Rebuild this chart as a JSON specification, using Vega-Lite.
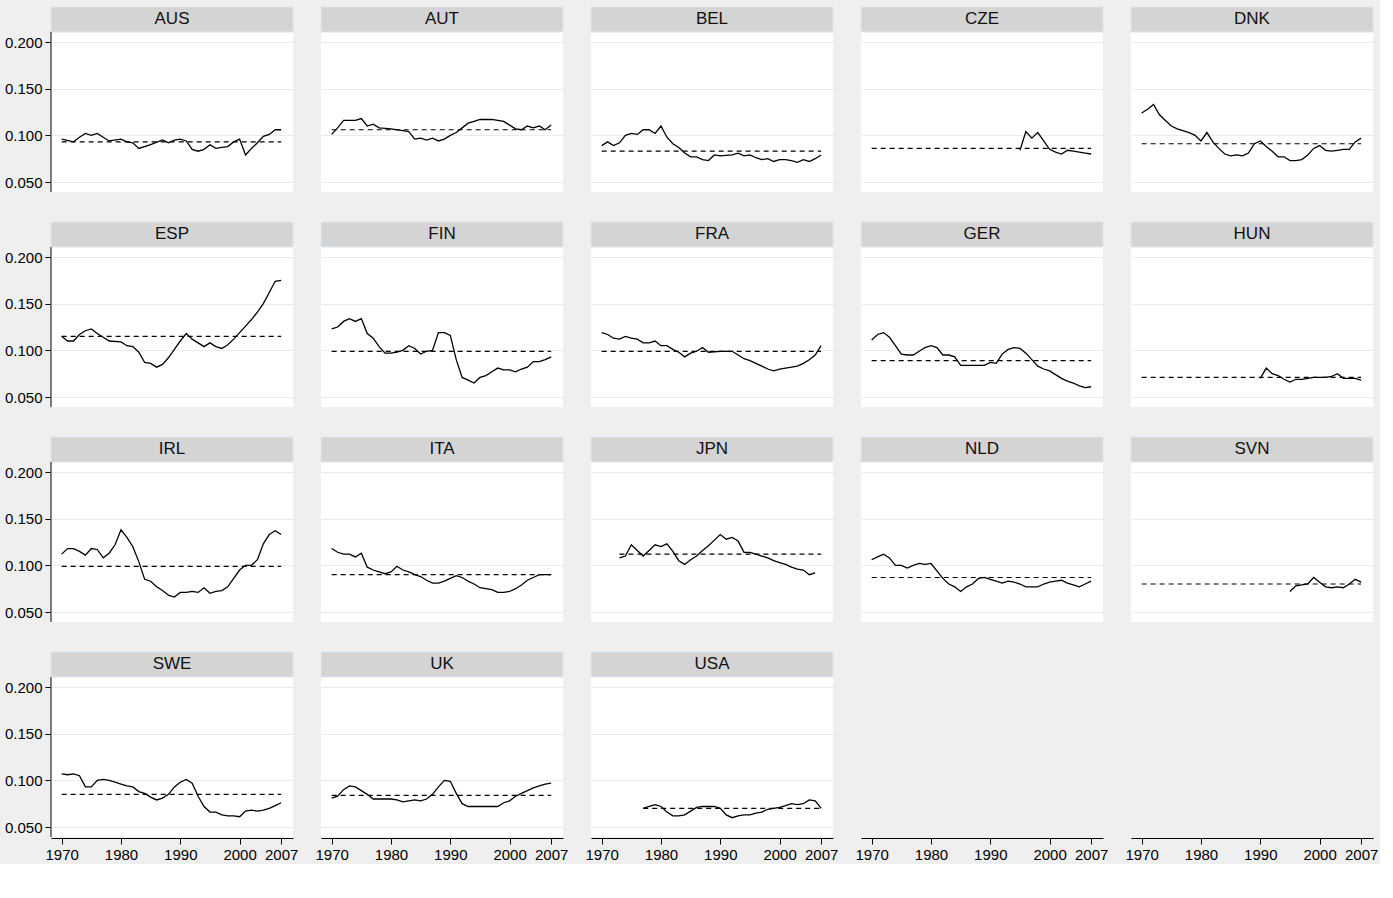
{
  "$schema": "https://vega.github.io/schema/vega-lite/v6.json",
  "padding": {"left": 4, "top": 5, "right": 2, "bottom": 2},
  "background": "#efefef",
  "data": {
    "values": [
      {"c": "AUS", "m": 0.093, "s": 1970, "e": 2007, "ys": [1970,1972,1973,1974,1975,1976,1977,1978,1980,1981,1982,1983,1985,1987,1988,1989,1990,1991,1992,1993,1994,1995,1996,1997,1998,1999,2000,2001,2002,2003,2004,2005,2006,2007], "vs": [0.096,0.093,0.098,0.102,0.100,0.102,0.098,0.094,0.096,0.093,0.092,0.086,0.090,0.095,0.092,0.095,0.096,0.094,0.085,0.083,0.085,0.090,0.086,0.087,0.088,0.093,0.096,0.079,0.086,0.092,0.099,0.101,0.106,0.106]},
      {"c": "AUT", "m": 0.106, "s": 1970, "e": 2007, "ys": [1970,1971,1972,1974,1975,1976,1977,1978,1980,1982,1983,1984,1985,1986,1987,1988,1989,1990,1991,1992,1993,1994,1995,1997,1999,2000,2001,2002,2003,2004,2005,2006,2007], "vs": [0.101,0.108,0.116,0.116,0.118,0.110,0.112,0.108,0.107,0.105,0.104,0.096,0.097,0.095,0.097,0.094,0.096,0.100,0.103,0.108,0.113,0.115,0.117,0.117,0.115,0.111,0.107,0.106,0.110,0.108,0.110,0.106,0.111]},
      {"c": "BEL", "m": 0.083, "s": 1970, "e": 2007, "ys": [1970,1971,1972,1973,1974,1975,1976,1977,1978,1979,1980,1981,1982,1983,1984,1985,1986,1987,1988,1989,1990,1992,1993,1994,1995,1996,1997,1998,1999,2000,2001,2002,2003,2004,2005,2006,2007], "vs": [0.089,0.093,0.089,0.092,0.100,0.102,0.101,0.106,0.106,0.102,0.110,0.098,0.091,0.087,0.081,0.077,0.077,0.074,0.073,0.079,0.078,0.079,0.081,0.078,0.079,0.076,0.074,0.075,0.072,0.074,0.074,0.073,0.071,0.074,0.072,0.075,0.079]},
      {"c": "CZE", "m": 0.086, "s": 1970, "e": 2007, "ys": [1995,1996,1997,1998,1999,2000,2001,2002,2003,2004,2005,2006,2007], "vs": [0.084,0.104,0.097,0.103,0.094,0.085,0.082,0.080,0.084,0.083,0.082,0.081,0.080]},
      {"c": "DNK", "m": 0.091, "s": 1970, "e": 2007, "ys": [1970,1971,1972,1973,1974,1975,1976,1978,1979,1980,1981,1982,1983,1984,1985,1986,1987,1988,1989,1990,1991,1992,1993,1994,1995,1996,1997,1998,1999,2000,2001,2002,2003,2004,2005,2006,2007], "vs": [0.124,0.128,0.133,0.122,0.116,0.110,0.107,0.103,0.100,0.094,0.103,0.093,0.086,0.080,0.078,0.079,0.078,0.081,0.091,0.094,0.088,0.083,0.077,0.077,0.073,0.073,0.074,0.079,0.086,0.089,0.084,0.083,0.084,0.085,0.085,0.093,0.097]},
      {"c": "ESP", "m": 0.115, "s": 1970, "e": 2007, "ys": [1970,1971,1972,1973,1974,1975,1976,1977,1978,1980,1981,1982,1983,1984,1985,1986,1987,1988,1989,1990,1991,1992,1993,1994,1995,1996,1997,1998,1999,2000,2001,2002,2003,2004,2005,2006,2007], "vs": [0.115,0.110,0.110,0.117,0.121,0.123,0.118,0.114,0.110,0.109,0.105,0.104,0.098,0.087,0.086,0.082,0.085,0.092,0.101,0.110,0.118,0.112,0.108,0.104,0.108,0.104,0.102,0.106,0.112,0.119,0.126,0.133,0.141,0.150,0.162,0.174,0.175]},
      {"c": "FIN", "m": 0.099, "s": 1970, "e": 2007, "ys": [1970,1971,1972,1973,1974,1975,1976,1977,1978,1979,1980,1981,1982,1983,1984,1985,1986,1987,1988,1989,1990,1991,1992,1993,1994,1995,1996,1997,1998,1999,2000,2001,2002,2003,2004,2005,2006,2007], "vs": [0.123,0.125,0.131,0.134,0.131,0.134,0.118,0.113,0.104,0.097,0.097,0.098,0.100,0.105,0.102,0.096,0.099,0.100,0.119,0.119,0.116,0.090,0.071,0.068,0.065,0.071,0.073,0.077,0.081,0.079,0.079,0.077,0.080,0.082,0.088,0.088,0.090,0.093]},
      {"c": "FRA", "m": 0.099, "s": 1970, "e": 2007, "ys": [1970,1971,1972,1973,1974,1975,1976,1977,1978,1979,1980,1981,1982,1983,1984,1985,1986,1987,1988,1990,1992,1993,1994,1995,1996,1997,1998,1999,2000,2001,2002,2003,2004,2005,2006,2007], "vs": [0.119,0.117,0.113,0.112,0.115,0.113,0.112,0.108,0.108,0.110,0.105,0.105,0.101,0.098,0.093,0.097,0.099,0.103,0.098,0.099,0.099,0.095,0.091,0.089,0.086,0.083,0.080,0.078,0.080,0.081,0.082,0.083,0.086,0.090,0.095,0.105]},
      {"c": "GER", "m": 0.089, "s": 1970, "e": 2007, "ys": [1970,1971,1972,1973,1974,1975,1976,1977,1978,1979,1980,1981,1982,1983,1984,1985,1986,1988,1989,1990,1991,1992,1993,1994,1995,1996,1997,1998,1999,2000,2001,2002,2003,2004,2005,2006,2007], "vs": [0.111,0.117,0.119,0.114,0.105,0.096,0.095,0.095,0.099,0.103,0.105,0.103,0.095,0.095,0.093,0.084,0.084,0.084,0.084,0.087,0.086,0.096,0.101,0.103,0.102,0.097,0.090,0.083,0.080,0.078,0.074,0.070,0.067,0.065,0.062,0.060,0.061]},
      {"c": "HUN", "m": 0.071, "s": 1970, "e": 2007, "ys": [1990,1991,1992,1993,1994,1995,1996,1997,1998,1999,2000,2001,2002,2003,2004,2005,2006,2007], "vs": [0.070,0.081,0.075,0.073,0.069,0.066,0.069,0.069,0.070,0.071,0.071,0.071,0.072,0.075,0.070,0.070,0.070,0.068]},
      {"c": "IRL", "m": 0.099, "s": 1970, "e": 2007, "ys": [1970,1971,1972,1973,1974,1975,1976,1977,1978,1979,1980,1981,1982,1983,1984,1985,1986,1987,1988,1989,1990,1991,1992,1993,1994,1995,1996,1997,1998,1999,2000,2001,2002,2003,2004,2005,2006,2007], "vs": [0.112,0.118,0.118,0.115,0.111,0.118,0.117,0.108,0.113,0.122,0.138,0.130,0.120,0.104,0.085,0.083,0.077,0.073,0.068,0.066,0.071,0.071,0.072,0.071,0.076,0.070,0.072,0.073,0.077,0.086,0.095,0.100,0.100,0.106,0.123,0.133,0.137,0.133]},
      {"c": "ITA", "m": 0.090, "s": 1970, "e": 2007, "ys": [1970,1971,1972,1973,1974,1975,1976,1977,1978,1979,1980,1981,1982,1983,1984,1985,1986,1987,1988,1989,1990,1991,1992,1993,1994,1995,1996,1997,1998,1999,2000,2001,2002,2003,2004,2005,2006,2007], "vs": [0.118,0.114,0.112,0.112,0.109,0.113,0.098,0.095,0.093,0.091,0.093,0.099,0.095,0.093,0.090,0.088,0.084,0.081,0.081,0.083,0.086,0.089,0.087,0.083,0.080,0.076,0.075,0.074,0.071,0.071,0.072,0.075,0.079,0.084,0.087,0.090,0.090,0.090]},
      {"c": "JPN", "m": 0.112, "s": 1973, "e": 2007, "ys": [1973,1974,1975,1976,1977,1978,1979,1980,1981,1982,1983,1984,1985,1986,1987,1988,1989,1990,1991,1992,1993,1994,1995,1996,1997,1998,1999,2000,2001,2002,2003,2004,2005,2006], "vs": [0.108,0.110,0.122,0.116,0.110,0.116,0.122,0.120,0.123,0.115,0.105,0.101,0.106,0.110,0.116,0.121,0.127,0.133,0.128,0.130,0.126,0.114,0.114,0.112,0.110,0.108,0.105,0.103,0.101,0.098,0.096,0.095,0.090,0.092]},
      {"c": "NLD", "m": 0.087, "s": 1970, "e": 2007, "ys": [1970,1971,1972,1973,1974,1975,1976,1977,1978,1979,1980,1981,1982,1983,1984,1985,1986,1987,1988,1989,1990,1991,1992,1993,1994,1995,1996,1997,1998,1999,2000,2001,2002,2003,2004,2005,2006,2007], "vs": [0.106,0.109,0.112,0.108,0.100,0.100,0.097,0.100,0.102,0.101,0.102,0.094,0.086,0.080,0.077,0.072,0.077,0.080,0.086,0.087,0.085,0.083,0.081,0.083,0.082,0.080,0.077,0.077,0.077,0.080,0.082,0.083,0.084,0.081,0.079,0.077,0.080,0.083]},
      {"c": "SVN", "m": 0.080, "s": 1970, "e": 2007, "ys": [1995,1996,1997,1998,1999,2000,2001,2002,2003,2004,2005,2006,2007], "vs": [0.072,0.078,0.079,0.080,0.087,0.082,0.077,0.076,0.077,0.076,0.080,0.085,0.082]},
      {"c": "SWE", "m": 0.085, "s": 1970, "e": 2007, "ys": [1970,1971,1972,1973,1974,1975,1976,1977,1978,1979,1980,1981,1982,1983,1984,1985,1986,1987,1988,1989,1990,1991,1992,1993,1994,1995,1996,1997,1998,1999,2000,2001,2002,2003,2004,2005,2006,2007], "vs": [0.107,0.106,0.107,0.105,0.093,0.093,0.100,0.101,0.100,0.098,0.096,0.094,0.093,0.088,0.086,0.082,0.079,0.081,0.085,0.093,0.098,0.101,0.097,0.083,0.072,0.066,0.066,0.063,0.062,0.062,0.061,0.067,0.068,0.067,0.068,0.070,0.073,0.076]},
      {"c": "UK", "m": 0.084, "s": 1970, "e": 2007, "ys": [1970,1971,1972,1973,1974,1975,1976,1977,1978,1980,1981,1982,1983,1984,1985,1986,1987,1988,1989,1990,1991,1992,1993,1994,1996,1998,1999,2000,2001,2002,2003,2004,2005,2006,2007], "vs": [0.081,0.083,0.090,0.094,0.093,0.089,0.085,0.080,0.080,0.080,0.079,0.077,0.078,0.079,0.078,0.080,0.085,0.093,0.100,0.099,0.086,0.075,0.072,0.072,0.072,0.072,0.076,0.078,0.083,0.086,0.089,0.092,0.094,0.096,0.097]},
      {"c": "USA", "m": 0.070, "s": 1977, "e": 2007, "ys": [1977,1978,1979,1980,1981,1982,1983,1984,1985,1986,1987,1988,1989,1990,1991,1992,1993,1994,1995,1996,1997,1998,1999,2000,2001,2002,2003,2004,2005,2006,2007], "vs": [0.070,0.072,0.074,0.072,0.066,0.062,0.062,0.063,0.067,0.071,0.072,0.072,0.072,0.070,0.063,0.060,0.062,0.063,0.063,0.065,0.066,0.069,0.070,0.071,0.073,0.075,0.074,0.075,0.079,0.078,0.070]}
    ]
  },
  "transform": [
    {"flatten": ["ys", "vs"], "as": ["yr", "v"]},
    {"calculate": "datum.yr == (datum.c == 'JPN' ? 2006 : 2007)", "as": "last"}
  ],
  "facet": {"field": "c", "type": "nominal", "header": {"title": null, "labels": false, "labelFontSize": 1, "labelPadding": 0, "labelColor": "#efefef"}},
  "columns": 5,
  "spacing": {"column": 26, "row": 27},
  "spec": {
    "width": 242,
    "height": 185,
    "layer": [
      {
        "transform": [{"filter": "datum.last"}],
        "mark": {"type": "rect", "color": "#d4d4d4", "stroke": "#dde6ee", "strokeWidth": 1},
        "encoding": {
          "x": {"datum": 1968.2, "type": "quantitative"},
          "x2": {"datum": 2009},
          "y": {"datum": 0.2107, "type": "quantitative"},
          "y2": {"datum": 0.2375}
        }
      },
      {
        "transform": [{"filter": "datum.last"}],
        "mark": {"type": "text", "font": "Liberation Sans", "fontSize": 17, "color": "#111111", "baseline": "middle"},
        "encoding": {
          "x": {"datum": 1988.6, "type": "quantitative"},
          "y": {"datum": 0.2245, "type": "quantitative"},
          "text": {"field": "c"}
        }
      },
      {
        "transform": [{"filter": "datum.last && indexof(['AUS','ESP','IRL','SWE'], datum.c) >= 0"}],
        "mark": {"type": "rule", "color": "#000000", "strokeWidth": 1},
        "encoding": {
          "x": {"datum": 1968.2, "type": "quantitative"},
          "y": {"datum": 0.0393, "type": "quantitative"},
          "y2": {"datum": 0.2107}
        }
      },
      {
        "transform": [{"filter": "datum.last"}],
        "mark": {"type": "rule", "color": "#000000", "strokeWidth": 1.2, "strokeDash": [5, 4]},
        "encoding": {
          "x": {"field": "s", "type": "quantitative"},
          "x2": {"field": "e"},
          "y": {"field": "m", "type": "quantitative"}
        }
      },
      {
        "mark": {"type": "line", "color": "#000000", "strokeWidth": 1.3},
        "encoding": {
          "x": {
            "field": "yr", "type": "quantitative",
            "scale": {"domain": [1968.2, 2009], "nice": false, "zero": false},
            "axis": {"title": null, "values": [1970, 1980, 1990, 2000, 2007], "format": "d", "grid": false, "domainColor": "#000000", "tickColor": "#000000", "tickSize": 6, "labelFontSize": 15, "labelColor": "#000000", "labelFont": "Liberation Sans", "labelPadding": 3, "labelOverlap": false}
          },
          "y": {
            "field": "v", "type": "quantitative",
            "scale": {"domain": [0.0393, 0.2375], "nice": false, "zero": false},
            "axis": {"title": null, "values": [0.05, 0.1, 0.15, 0.2], "format": ".3f", "grid": true, "gridColor": "#ebebeb", "domain": false, "tickColor": "#000000", "tickSize": 5, "labelFontSize": 15, "labelColor": "#000000", "labelFont": "Liberation Sans", "labelPadding": 3}
          }
        }
      }
    ]
  },
  "config": {
    "view": {"fill": "#ffffff", "stroke": null},
    "line": {"interpolate": "linear"}
  }
}
